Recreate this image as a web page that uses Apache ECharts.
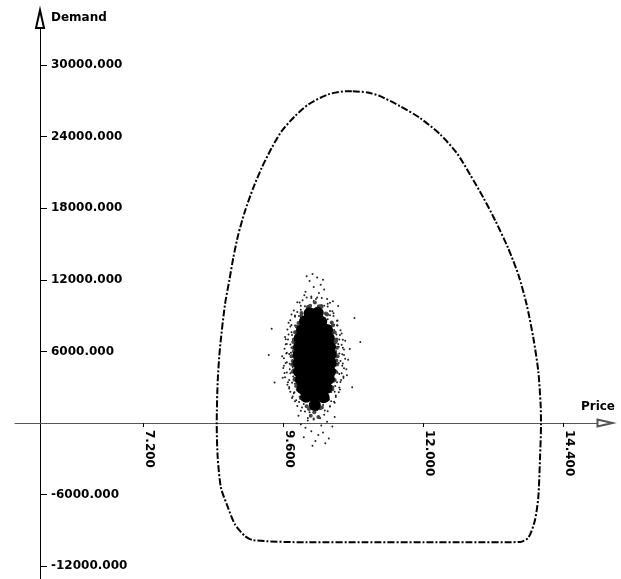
<!DOCTYPE html>
<html><head><meta charset="utf-8">
<script src="https://cdn.jsdelivr.net/npm/echarts@6/dist/echarts.min.js"></script>
<style>html,body{margin:0;padding:0;background:#fff}#c{width:621px;height:579px}</style>
</head><body><div id="c"></div>
<script>
// tick labels
const xTicks = [7.2, 9.6, 12.0, 14.4];
const yTicksUpper = [6000, 12000, 18000, 24000, 30000];
const yTicksLower = [-12000, -6000];

// closed boundary curve (Price, Demand)
const boundaryCurve = [
  [10.79,27820],[11.05,27700],[11.26,27400],[11.60,26560],[11.94,25580],[12.29,24190],
  [12.57,22650],[12.80,20840],[13.03,18880],[13.237,16930],[13.451,14690],[13.631,12400],
  [13.77,9950],[13.885,7150],[13.97,4360],[14.01,1570],[14.017,-110],[14.00,-2910],
  [13.97,-6260],[13.91,-8210],[13.80,-9610],[13.66,-9980],[12.80,-10000],[12.00,-10000],
  [11.00,-10000],[10.00,-10000],[9.085,-9830],[8.94,-9470],[8.77,-8490],[8.63,-6810],
  [8.53,-5420],[8.475,-2910],[8.458,-110],[8.475,3520],[8.514,6310],[8.60,9950],
  [8.677,12040],[8.742,13850],[8.828,15810],[8.943,17770],[9.085,19720],[9.229,21390],
  [9.401,23070],[9.572,24470],[9.80,25730],[10.03,26710],[10.37,27550],[10.71,27820],
  [10.79,27820]
];

// dense core of the simulated cloud
const cloudCore = [
  [10.14,1500],
  [9.99,2200],[10.13,2250],[10.29,2150],
  [9.93,2900],[10.07,2950],[10.21,2880],[10.34,2930],
  [9.90,3600],[10.04,3650],[10.18,3580],[10.32,3620],[10.38,3700],
  [9.87,4300],[10.00,4350],[10.14,4280],[10.28,4320],[10.40,4300],
  [9.86,5000],[9.99,5050],[10.13,4980],[10.27,5020],[10.41,5000],
  [9.86,5700],[10.00,5650],[10.14,5720],[10.28,5680],[10.41,5700],
  [9.87,6400],[10.00,6450],[10.14,6380],[10.28,6420],[10.40,6400],
  [9.88,7100],[10.02,7150],[10.16,7080],[10.30,7120],[10.38,7100],
  [9.92,7800],[10.06,7850],[10.20,7780],[10.35,7800],
  [9.97,8500],[10.11,8550],[10.25,8480],
  [10.05,9200],[10.19,9250]
];

// speckled band round the core
const cloudHalo = [
  [9.74,5600],[9.76,4300],[9.78,7000],[9.82,3100],[9.83,8100],[9.90,2100],[9.91,9000],[10.00,1400],
  [10.02,9700],[10.13,900],[10.14,10100],[10.26,1300],[10.25,9800],[10.36,2000],[10.35,9100],
  [10.44,3000],[10.45,8200],[10.50,4300],[10.51,7000],[10.53,5600],[9.77,6300],[9.75,4900],
  [10.52,4900],[10.52,6300],[9.80,3700],[10.48,3600],[9.80,7600],[10.48,7600],[10.07,600],[10.20,500],
  [10.04,1180],[10.23,1240],[9.93,2030],[10.36,1960],[9.85,2790],[10.44,2830],[9.79,3620],[10.47,3570],
  [9.78,4420],[10.48,4380],[9.76,5190],[10.51,5230],[9.78,6020],[10.49,5970],[9.77,6790],[10.50,6830],
  [9.82,7620],[10.45,7580],[9.86,8380],[10.43,8420],[9.91,9230],[10.33,9170],[10.06,9820],[10.21,9790]
];

// sparse outer points of the cloud
const cloudFringe = [
  [9.62,4200],[9.66,5100],[9.70,3600],[9.74,6300],[9.68,7000],[9.78,2500],[9.72,8100],[9.80,8900],
  [9.58,5600],[9.64,6600],[9.76,4700],[9.70,2900],[9.82,1900],[9.74,7600],[9.67,3200],[9.79,5400],
  [9.61,4800],[9.73,5900],[9.77,3900],[9.69,8400],[9.81,7300],[9.75,2100],[9.63,7200],[9.71,4500],
  [9.84,9300],[9.66,5900],[9.78,6800],[9.59,3800],[9.83,2800],[9.74,9100],
  [10.52,4300],[10.58,5200],[10.55,6400],[10.49,3100],[10.61,4800],[10.47,7800],[10.56,7000],
  [10.64,5700],[10.50,2300],[10.53,8600],[10.68,4500],[10.59,3600],[10.46,9200],[10.62,6300],
  [10.51,5800],[10.57,2800],[10.66,6900],[10.48,1700],[10.54,9800],[10.60,7500],[10.71,5300],
  [10.45,10200],[10.63,3900],[10.50,6700],[10.74,6200],[10.56,4100],[10.69,4000],[10.52,8200],
  [10.02,9800],[10.15,10100],[10.27,9700],[9.93,10300],[10.08,10600],[10.21,10900],[10.35,10400],
  [9.98,11000],[10.12,11400],[10.30,11200],[10.05,11900],[10.18,12200],[9.90,9500],[10.40,9400],
  [10.24,11600],[9.96,10700],[10.36,10000],[10.10,12500],[10.28,12000],[10.00,12300],[10.16,10400],
  [9.88,10100],
  [9.92,1300],[10.05,900],[10.18,1100],[10.30,700],[10.40,1400],[9.86,600],[10.12,300],[10.25,-200],
  [9.98,-400],[10.35,100],[10.08,-700],[10.20,-1000],[10.44,-300],[9.95,-1200],[10.15,-1500],
  [10.28,-800],[10.02,200],[10.38,-1300],[10.10,-1900],[10.48,500],[10.23,400],[9.90,-100],
  [10.32,-1700],[10.06,1600],
  [9.35,5700],[10.92,6800],[9.45,3400],[10.82,8800],[9.40,7900],[10.78,3000],
  [9.80,3300],[9.82,6100],[9.79,7000],[9.84,4400],[9.83,8000],[10.45,3500],[10.46,5000],
  [10.44,6000],[10.43,7200],[10.42,2600],[9.88,2200],[10.38,2000],[9.90,8800],[10.36,8700],
  [10.20,9500],[10.00,9300],[9.95,1600],[10.28,1500],[10.15,1000],[9.87,5300],[10.47,4400],[10.41,8100],
  [9.90,1030],[9.97,960],[10.31,1040],[10.36,980],[9.80,1820],[9.87,1770],[10.42,1830],[10.47,1790],
  [9.72,2620],[9.79,2580],[10.48,2630],[10.55,2570],[9.68,3420],[9.75,3380],[10.52,3410],[10.58,3440],
  [9.66,4230],[9.72,4170],[10.53,4220],[10.60,4180],[9.64,5030],[9.71,4970],[10.55,5020],[10.62,4990],
  [9.65,5820],[9.70,5780],[10.56,5830],[10.61,5770],[9.66,6620],[9.72,6580],[10.54,6630],[10.60,6570],
  [9.69,7420],[9.75,7380],[10.51,7430],[10.57,7370],[9.74,8220],[9.80,8180],[10.47,8230],[10.53,8170],
  [9.80,9020],[9.87,8980],[10.40,9030],[10.46,8970],[9.90,9820],[9.97,9780],[10.30,9830],[10.36,9770],
  [10.00,10520],[10.08,10480],[10.18,10530],[10.26,10470],[10.12,10220],[10.02,420],[10.12,380],[10.22,430],
  [9.84,1420],[10.40,1380],[9.76,2230],[10.50,2170],[9.70,3020],[10.56,2980],[9.63,3830],[10.63,3770],
  [9.60,4620],[10.64,4580],[9.61,5420],[10.66,5380],[9.62,6230],[10.64,6170],[9.64,7020],[10.62,6980],
  [9.67,7830],[10.58,7770],[9.72,8620],[10.52,8580],[9.78,9430],[10.44,9370],[9.84,10120],[10.40,10080]
];

const FONT = 'DejaVu Sans';
const txt = {fontFamily: FONT, fontWeight: 'bold', fontSize: 12, color: '#000'};
const fmt = v => Number(v).toFixed(3);
const chart = echarts.init(document.getElementById('c'), null, {renderer: 'canvas'});
chart.setOption({
  animation: false,
  backgroundColor: '#fff',
  grid: [
    {left: 15, right: 16, top: 19, height: 404, outerBoundsMode: 'none', containLabel: false},
    {left: 15, right: 16, top: 423, height: 161, outerBoundsMode: 'none', containLabel: false}
  ],
  xAxis: [{
    gridIndex: 0, type: 'value', min: 5.0, max: 15.114, position: 'bottom',
    name: 'Price', nameLocation: 'end', nameGap: 10,
    nameTextStyle: Object.assign({align: 'right', verticalAlign: 'bottom', padding: [0, 0, 10, 0]}, txt),
    axisLine: {onZero: false, lineStyle: {color: '#555', width: 1},
      symbol: ['none', 'emptyTriangle'], symbolSize: [7, 15]},
    axisTick: {show: true, inside: false, length: 4, lineStyle: {color: '#000'}, customValues: xTicks},
    axisLabel: Object.assign({show: true, rotate: -90, margin: 7, verticalAlign: 'bottom',
      customValues: xTicks, formatter: fmt}, txt),
    splitLine: {show: false}
  }, {
    gridIndex: 1, type: 'value', min: 5.0, max: 15.114, show: false
  }],
  yAxis: [{
    gridIndex: 0, type: 'value', min: 0, max: 33870, offset: -25,
    name: 'Demand', nameLocation: 'end', nameGap: 1.5,
    nameTextStyle: Object.assign({align: 'left', verticalAlign: 'middle', padding: [0, 0, 0, 11]}, txt),
    axisLine: {show: true, onZero: false, lineStyle: {color: '#000', width: 1},
      symbol: ['none', 'emptyTriangle'], symbolSize: [8, 18]},
    axisTick: {show: true, inside: true, length: 7, lineStyle: {color: '#000'}, customValues: yTicksUpper},
    axisLabel: Object.assign({show: true, inside: true, margin: 11, customValues: yTicksUpper, formatter: fmt}, txt),
    splitLine: {show: false}
  }, {
    gridIndex: 1, type: 'value', min: -13500, max: 0, offset: -25,
    axisLine: {show: true, onZero: false, lineStyle: {color: '#000', width: 1}},
    axisTick: {show: true, inside: true, length: 7, lineStyle: {color: '#000'}, customValues: yTicksLower},
    axisLabel: Object.assign({show: true, inside: true, margin: 11, customValues: yTicksLower, formatter: fmt}, txt),
    splitLine: {show: false}
  }],
  series: [
    {type: 'line', xAxisIndex: 0, yAxisIndex: 0, clip: false, data: boundaryCurve, showSymbol: false, smooth: 0.25,
     lineStyle: {color: '#000', width: 2, type: [7, 2, 2, 2]}, z: 3},
    {type: 'scatter', xAxisIndex: 0, yAxisIndex: 0, clip: false, data: cloudFringe, symbolSize: 2,
     itemStyle: {color: '#222', opacity: 1}, z: 2},
    {type: 'scatter', xAxisIndex: 0, yAxisIndex: 0, clip: false, data: cloudHalo, symbolSize: 4,
     itemStyle: {color: '#444', opacity: 1}, z: 2},
    {type: 'scatter', xAxisIndex: 0, yAxisIndex: 0, clip: false, data: cloudCore, symbolSize: 12,
     itemStyle: {color: '#000', opacity: 1}, z: 2}
  ]
});
</script>
</body></html>
